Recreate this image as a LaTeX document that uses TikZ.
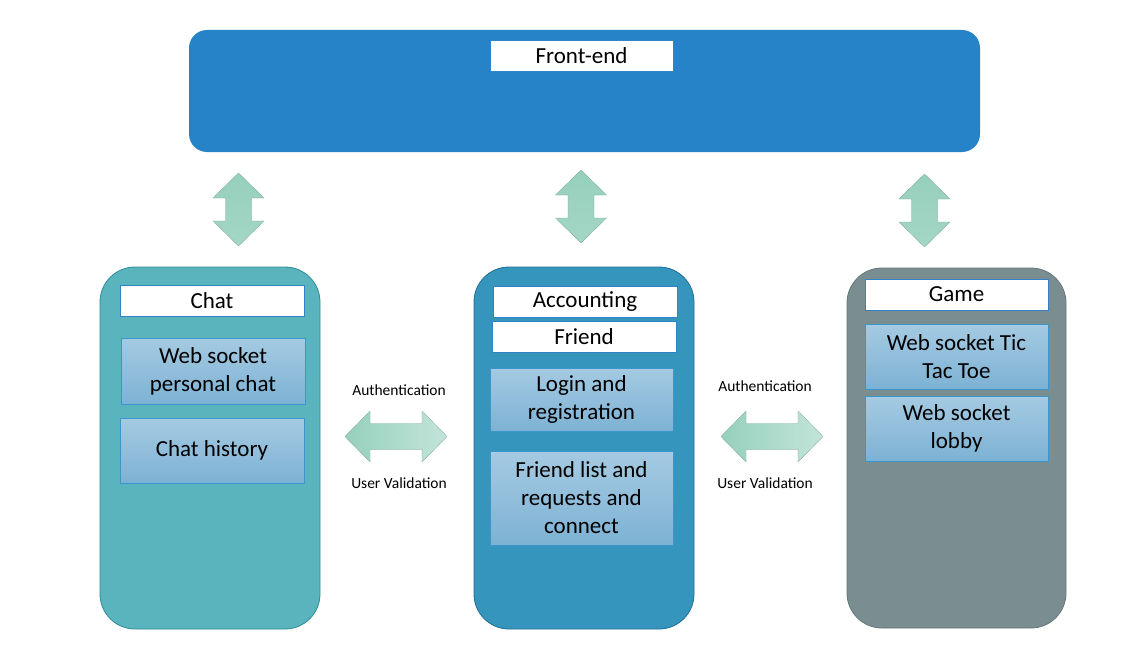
\documentclass[tikz,border=0pt]{standalone}
\usepackage{fontspec}
\setmainfont{Carlito}
\definecolor{feblue}{RGB}{39,131,200}
\definecolor{chatc}{RGB}{90,180,190}
\definecolor{chatb}{RGB}{45,140,150}
\definecolor{accc}{RGB}{54,149,189}
\definecolor{accb}{RGB}{30,110,150}
\definecolor{gamec}{RGB}{122,141,145}
\definecolor{gameb}{RGB}{100,118,122}
\definecolor{itop}{RGB}{165,202,226}
\definecolor{ibot}{RGB}{125,178,212}
\definecolor{iborder}{RGB}{60,150,205}
\definecolor{tborder}{RGB}{50,130,200}
\definecolor{arA}{RGB}{150,208,188}
\definecolor{arB}{RGB}{195,228,218}
\tikzset{
  container/.style={draw, line width=0.8pt, rounded corners=35pt},
  titlebox/.style={draw=tborder, fill=white, line width=0.8pt},
  itembox/.style={draw=iborder, line width=0.8pt, top color=itop, bottom color=ibot},
  lbl/.style={font=\fontsize{23}{28}\selectfont, align=center},
  small/.style={font=\fontsize{15.5}{18}\selectfont},
  varrow/.style={draw=arA!80!black, line width=0.3pt, top color=arA, bottom color=arA!70!arB},
  harrow/.style={draw=arA!80!black, line width=0.3pt, left color=arA, right color=arB},
}
\begin{document}
\begin{tikzpicture}[x=1pt,y=-1pt]
\useasboundingbox (0,0) rectangle (1142,658);
% Front-end
\fill[feblue, rounded corners=18pt] (189,30) rectangle (980,152);
\node[titlebox, minimum width=183pt, minimum height=31pt, lbl] (fe) at (581.5,55.5) {Front-end};
% Containers
\draw[container, fill=chatc, draw=chatb] (100,267) rectangle (320,629);
\draw[container, fill=accc, draw=accb] (474,267) rectangle (694,629);
\draw[container, fill=gamec, draw=gameb] (847,268) rectangle (1066,628);
% Chat
\node[titlebox, minimum width=184pt, minimum height=31pt, lbl] (chat) at (212,300.5) {Chat};
\node[itembox, minimum width=184pt, minimum height=66pt, lbl] (ws) at (213,371) {Web socket\\personal chat};
\node[itembox, minimum width=184pt, minimum height=65pt, lbl] (hist) at (212,450.5) {Chat history};
% Accounting
\node[titlebox, minimum width=184pt, minimum height=31pt, lbl] (acc) at (585,301.5) {Accounting};
\node[titlebox, minimum width=184pt, minimum height=31pt, lbl] (fr) at (584,336.5) {Friend};
\node[itembox, minimum width=183pt, minimum height=63pt, lbl] (login) at (581.5,399.5) {Login and\\registration};
\node[itembox, minimum width=183pt, minimum height=94pt, lbl] (flist) at (581.5,498) {Friend list and\\requests and\\connect};
% Game
\node[titlebox, minimum width=183pt, minimum height=31pt, lbl] (game) at (956.5,294.5) {Game};
\node[itembox, minimum width=183pt, minimum height=65pt, lbl] (ttt) at (956.5,356.5) {Web socket Tic\\Tac Toe};
\node[itembox, minimum width=183pt, minimum height=65pt, lbl] (lobby) at (956.5,428.5) {Web socket\\lobby};
% Vertical double arrows
\foreach \cx/\ty in {238.5/173, 581/170, 924.5/174} {
  \path[varrow] (\cx,\ty) -- ++(25.5,25) -- ++(-12.5,0) -- ++(0,23) -- ++(12.5,0)
     -- ++(-25.5,25) -- ++(-25.5,-25) -- ++(12.5,0) -- ++(0,-23) -- ++(-12.5,0) -- cycle;
}
% Horizontal double arrows
\foreach \lx in {345, 721} {
  \path[harrow] (\lx,436.5) -- ++(25,-25.5) -- ++(0,12.5) -- ++(52,0) -- ++(0,-12.5)
     -- ++(25,25.5) -- ++(-25,25.5) -- ++(0,-12.5) -- ++(-52,0) -- ++(0,12.5) -- cycle;
}
% Labels
\node[small] (a1) at (399,390) {Authentication};
\node[small] (u1) at (399,483) {User Validation};
\node[small] (a2) at (765,386) {Authentication};
\node[small] (u2) at (765,483) {User Validation};
\end{tikzpicture}
\end{document}
